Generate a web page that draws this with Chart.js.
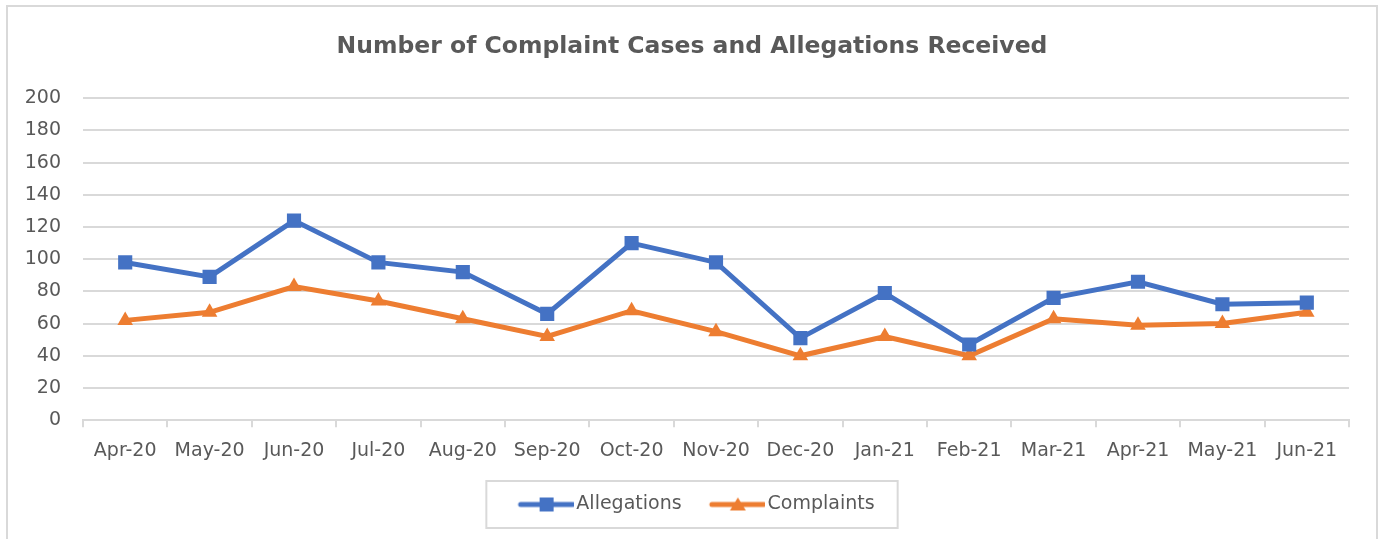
<!DOCTYPE html>
<html>
<head>
<meta charset="utf-8">
<script src="https://cdn.jsdelivr.net/npm/chart.js@4/dist/chart.umd.min.js"></script>
<style>
  html, body { margin: 0; padding: 0; background: #fff; }
  #wrap { position: relative; width: 1380px; height: 539px; overflow: hidden; }
  #frame {
    position: absolute; left: 6px; top: 5px; width: 1368px; height: 560px;
    border: 2px solid #d9d9d9; border-bottom: none; pointer-events: none;
  }
  #chart { position: absolute; left: 0; top: 0; }
</style>
</head>
<body>
<div id="wrap">
  <div id="frame"></div>
  <canvas id="chart" width="1380" height="539"></canvas>
</div>
<script>
"use strict";

// ----- data ---------------------------------------------------------------- //
const MONTHS = ["Apr-20", "May-20", "Jun-20", "Jul-20", "Aug-20", "Sep-20", "Oct-20",
                "Nov-20", "Dec-20", "Jan-21", "Feb-21", "Mar-21", "Apr-21", "May-21", "Jun-21"];
const ALLEGATIONS = [98, 89, 124, 98, 92, 66, 110, 98, 51, 79, 47, 76, 86, 72, 73];
const COMPLAINTS  = [62, 67, 83, 74, 63, 52, 68, 55, 40, 52, 40, 63, 59, 60, 67];

const BLUE = "#4472c4";
const ORANGE = "#ed7d31";
const GRID = "#d9d9d9";
const TEXT = "#595959";
const FONT = "'DejaVu Sans', sans-serif";

// ----- legend swatch: line + marker ----------------------------------------- //
// image is centred by Chart.js on x + boxWidth/2, so the line is drawn
// shifted right inside it to start at the item's left edge
function swatch(color, marker) {
  const c = document.createElement("canvas");
  c.width = 62; c.height = 18;
  const ctx = c.getContext("2d");
  ctx.strokeStyle = color;
  ctx.fillStyle = color;
  ctx.lineWidth = 5;
  ctx.lineCap = "round";
  ctx.beginPath();
  ctx.moveTo(9, 9); ctx.lineTo(61, 9);
  ctx.stroke();
  ctx.beginPath();
  if (marker === "rect") {
    ctx.rect(28, 2, 14, 14);
  } else {
    ctx.moveTo(35, 2); ctx.lineTo(43, 15); ctx.lineTo(27, 15); ctx.closePath();
  }
  ctx.fill();
  return c;
}

// title and legend in the original sit a bit right of the canvas centre;
// the legend also has a grey box round it
const legendFrame = {
  id: "legendFrame",
  afterLayout(chart) {
    if (chart.titleBlock) chart.titleBlock.left += 35;
    const lg = chart.legend;
    if (!lg || !lg.legendHitBoxes) return;
    lg.left += 44;
    // adjustHitBoxes recomputes left but adds to top, so keep the tops
    const tops = lg.legendHitBoxes.map(b => b.top);
    lg.adjustHitBoxes();
    lg.legendHitBoxes.forEach((b, i) => { b.top = tops[i]; });
  },
  afterDraw(chart) {
    const lg = chart.legend;
    if (!lg || !lg.legendHitBoxes || !lg.legendHitBoxes.length) return;
    const boxes = lg.legendHitBoxes;
    const left = Math.min(...boxes.map(b => b.left)) - 32;
    const right = Math.max(...boxes.map(b => b.left + b.width)) + 23;
    const top = Math.min(...boxes.map(b => b.top)) - 14;
    const bottom = Math.max(...boxes.map(b => b.top + b.height)) + 14;
    const ctx = chart.ctx;
    ctx.save();
    ctx.strokeStyle = GRID;
    ctx.lineWidth = 2;
    ctx.strokeRect(left, top, right - left, bottom - top);
    ctx.restore();
  }
};

new Chart(document.getElementById("chart"), {
  type: "line",
  data: {
    labels: MONTHS,
    datasets: [
      {
        label: "Allegations", data: ALLEGATIONS,
        borderColor: BLUE, backgroundColor: BLUE, borderWidth: 5,
        pointStyle: "rect", pointRadius: 10, pointBorderWidth: 0,
        tension: 0,
      },
      {
        label: "Complaints", data: COMPLAINTS,
        borderColor: ORANGE, backgroundColor: ORANGE, borderWidth: 5,
        pointStyle: "triangle", pointRadius: 9, pointBorderWidth: 0,
        tension: 0,
      },
    ],
  },
  options: {
    responsive: false,
    animation: false,
    layout: { padding: { left: 0, right: 31, top: 0, bottom: 15 } },
    scales: {
      x: {
        offset: true,
        afterFit(scale) { scale.height -= 7; },
        grid: { offset: true, drawOnChartArea: false, drawTicks: true, tickLength: 7,
                color: GRID, lineWidth: 2 },
        border: { display: true, color: GRID, width: 2 },
        ticks: { color: TEXT, font: { family: FONT, size: 19 }, padding: 12,
                 maxRotation: 0, autoSkip: false },
      },
      y: {
        min: 0, max: 200,
        afterFit(scale) { scale.width = 83; },
        grid: { color: GRID, lineWidth: 2, drawTicks: false },
        border: { display: false },
        ticks: { stepSize: 20, color: TEXT, font: { family: FONT, size: 19 }, padding: 22 },
      },
    },
    plugins: {
      title: {
        display: true,
        text: "Number of Complaint Cases and Allegations Received",
        color: TEXT,
        font: { family: FONT, size: 23.5, weight: "bold" },
        padding: { top: 33, bottom: 37 },
      },
      legend: {
        position: "bottom",
        labels: {
          color: TEXT,
          font: { family: FONT, size: 19 },
          usePointStyle: true,
          pointStyleWidth: 48.5,
          padding: 28,
          generateLabels(chart) {
            return chart.data.datasets.map((ds, i) => ({
              text: ds.label,
              fontColor: TEXT,
              pointStyle: swatch(ds.borderColor, ds.pointStyle),
              datasetIndex: i,
              hidden: false,
              lineWidth: 0,
            }));
          },
        },
      },
      tooltip: { enabled: false },
    },
  },
  plugins: [legendFrame],
});
</script>
</body>
</html>
